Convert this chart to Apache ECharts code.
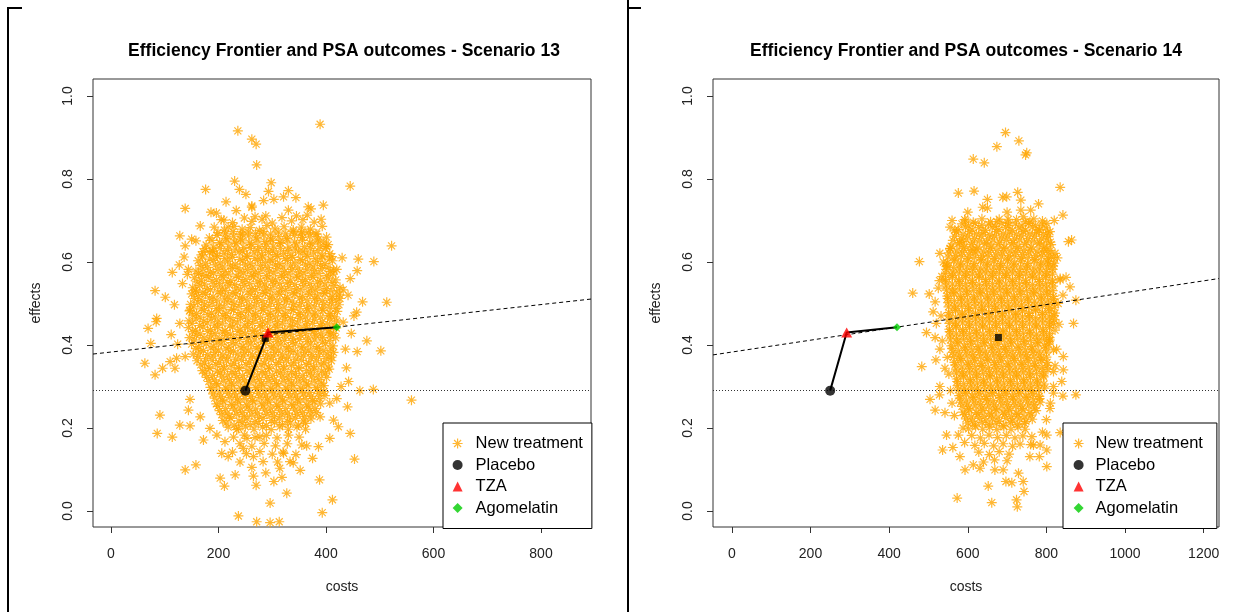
<!DOCTYPE html>
<html>
<head>
<meta charset="utf-8">
<title>Efficiency Frontier and PSA outcomes</title>
<script src="https://cdn.jsdelivr.net/npm/echarts@6/dist/echarts.min.js"></script>
<style>
  html, body { margin: 0; padding: 0; background: #fff; }
  #chart { width: 1244px; height: 612px; }
</style>
</head>
<body>
<div id="chart"></div>
<script>
// ---- chart text ----
const titles = [
  'Efficiency Frontier and PSA outcomes - Scenario 13',
  'Efficiency Frontier and PSA outcomes - Scenario 14'
];
const legendNames = ['New treatment', 'Placebo', 'TZA', 'Agomelatin'];
const xAxisName = 'costs';
const yAxisName = 'effects';

// ---- tick labels ----
const xTicks13 = [0, 200, 400, 600, 800];
const xTicks14 = [0, 200, 400, 600, 800, 1000, 1200];
const yTicks = [0, 0.2, 0.4, 0.6, 0.8, 1.0];

// ---- comparators on the efficiency frontier: Placebo, TZA, Agomelatin ----
const frontierCosts = [250, 292, 420];
const frontierEffects = [0.29, 0.43, 0.443];

// ---- mean of the new treatment PSA runs ----
const mean13 = [287, 0.416];
const mean14 = [678, 0.418];

// ---- willingness-to-pay line through the last frontier point ----
const wtpIntercept = 0.383;
const wtpSlope = 0.000143;

// ---- PSA outcomes, new treatment, scenario 13: [cost, effect] ----
const psa13 = [
  [236,0.916],[389,0.932],[262,0.896],[270,0.884],[271,0.834],[230,0.795],[298,0.791],[239,0.775],[176,0.775],[445,0.783],
  [293,0.770],[251,0.763],[321,0.757],[303,0.751],[138,0.729],[186,0.720],[233,0.724],[262,0.732],[367,0.733],[395,0.737],
  [210,0.701],[268,0.709],[288,0.711],[330,0.725],[345,0.711],[365,0.713],[391,0.703],[166,0.687],[218,0.684],[128,0.663],
  [138,0.639],[158,0.651],[522,0.639],[460,0.607],[489,0.601],[458,0.579],[127,0.593],[114,0.575],[144,0.582],[82,0.531],
  [101,0.515],[468,0.504],[513,0.503],[457,0.479],[432,0.533],[411,0.613],[401,0.637],[355,0.673],[383,0.667],[244,0.667],
  [190,0.625],[171,0.625],[169,0.569],[159,0.528],[147,0.484],[414,0.581],[426,0.512],[85,0.464],
  [69,0.440],[84,0.456],[74,0.404],[63,0.356],[82,0.328],[96,0.344],[110,0.360],[122,0.368],[119,0.344],[476,0.410],
  [502,0.386],[458,0.384],[442,0.312],[463,0.290],[488,0.293],[559,0.267],[440,0.251],[445,0.187],[453,0.125],[388,0.075],
  [412,0.027],[393,-0.004],[327,0.043],[296,0.019],[237,-0.012],[271,-0.026],[296,-0.028],[313,-0.026],[211,0.060],[203,0.079],
  [138,0.099],[158,0.111],[231,0.087],[265,0.084],[303,0.071],[339,0.116],[375,0.127],[86,0.187],[114,0.178],[91,0.231],
  [128,0.207],[147,0.205],[172,0.171],[166,0.227],[147,0.269],[144,0.243],[197,0.183],[212,0.167],[237,0.199],[253,0.175],
  [277,0.179],[206,0.139],[218,0.131],[246,0.151],[265,0.131],[283,0.119],[321,0.139],[333,0.119],[314,0.103],[355,0.159],
  [364,0.157],[386,0.155],[407,0.175],[389,0.227],[414,0.219],[423,0.203],[407,0.260],[420,0.271],[184,0.199],
  [128,0.452],[118,0.497],[133,0.548],[124,0.402],[138,0.372],[112,0.425],[136,0.612],[150,0.655],[142,0.570],[432,0.455],
  [441,0.520],[436,0.390],[447,0.428],[430,0.610],[452,0.470],[438,0.345],[428,0.300],[445,0.560],[214,0.745],[262,0.735],
  [284,0.748],[344,0.755],[372,0.728],[196,0.718],[330,0.772],[240,0.118],[262,0.105],[288,0.092],[310,0.118],[344,0.136],
  [226,0.142],[270,0.062],[318,0.081],[352,0.098],
  [205,0.702],[226,0.695],[248,0.706],[262,0.698],[281,0.703],[300,0.694],[318,0.707],[336,0.699],[357,0.702],[378,0.696],
  [192,0.684],[211,0.677],[229,0.686],[244,0.679],[259,0.683],[276,0.676],[290,0.688],[305,0.680],[322,0.685],[339,0.677],[354,0.684],[371,0.679],[393,0.686],
  [199,0.671],[213,0.668],[227,0.673],[241,0.667],[255,0.672],[269,0.669],[283,0.674],[297,0.667],[311,0.672],[325,0.668],[339,0.673],[353,0.667],[367,0.671],[381,0.668],
  [183,0.658],[197,0.664],[214,0.657],[228,0.662],[241,0.655],[256,0.663],[270,0.658],[284,0.665],[297,0.656],[312,0.661],[327,0.657],[341,0.664],[356,0.659],[370,0.662],[386,0.655],[401,0.660],
  [188,0.652],[202,0.647],[216,0.653],[230,0.648],[244,0.651],[258,0.646],[272,0.653],[286,0.649],[300,0.652],[314,0.647],[328,0.653],[342,0.648],[356,0.652],[370,0.646],[384,0.651],[396,0.648],
  [177,0.641],[191,0.636],[205,0.643],[219,0.638],[233,0.644],[247,0.635],[261,0.642],[275,0.637],[289,0.643],[302,0.638],[316,0.645],[331,0.636],[345,0.641],[360,0.637],[374,0.643],[389,0.638],[404,0.642],
  [175,0.632],[189,0.627],[203,0.633],[217,0.628],[231,0.631],[245,0.626],[259,0.633],[273,0.628],[287,0.632],[301,0.627],[315,0.633],[329,0.628],[343,0.631],[357,0.626],[371,0.633],[385,0.628],[399,0.632],
  [168,0.617],[183,0.623],[196,0.616],[210,0.621],[224,0.618],[238,0.624],[252,0.615],[266,0.622],[280,0.617],[293,0.623],[307,0.618],[321,0.621],[335,0.616],[349,0.624],[363,0.619],[377,0.622],[392,0.615],[407,0.620],
  [170,0.612],[184,0.607],[198,0.613],[212,0.608],[226,0.611],[240,0.606],[254,0.613],[268,0.608],[282,0.612],[296,0.607],[310,0.613],[324,0.608],[338,0.611],[352,0.606],[366,0.613],[380,0.608],[394,0.612],[406,0.607],
  [162,0.603],[176,0.597],[190,0.604],[203,0.598],[217,0.602],[231,0.595],[245,0.603],[259,0.597],[273,0.604],[287,0.599],[300,0.602],[314,0.596],[328,0.604],[342,0.598],[356,0.603],[370,0.597],[384,0.601],[398,0.596],[412,0.603],
  [166,0.592],[180,0.587],[194,0.593],[208,0.588],[222,0.591],[236,0.586],[250,0.593],[264,0.588],[278,0.592],[292,0.587],[306,0.593],[320,0.588],[334,0.591],[348,0.586],[362,0.593],[376,0.588],[390,0.592],[404,0.587],
  [158,0.578],[171,0.583],[185,0.576],[199,0.582],[212,0.577],[226,0.584],[240,0.578],[254,0.582],[268,0.576],[281,0.583],[295,0.578],[309,0.584],[323,0.577],[337,0.582],[351,0.576],[365,0.583],[379,0.579],[393,0.584],[408,0.577],[420,0.582],
  [163,0.572],[177,0.567],[191,0.573],[205,0.568],[219,0.571],[233,0.566],[247,0.573],[261,0.568],[275,0.572],[289,0.567],[303,0.573],[317,0.568],[331,0.571],[345,0.566],[359,0.573],[373,0.568],[387,0.572],[401,0.567],[413,0.571],
  [155,0.562],[168,0.556],[182,0.563],[196,0.557],[209,0.562],[223,0.555],[237,0.563],[251,0.558],[265,0.564],[278,0.556],[292,0.561],[306,0.557],[320,0.563],[334,0.556],[348,0.562],[362,0.558],[376,0.563],[390,0.556],[404,0.561],[418,0.557],
  [160,0.552],[174,0.547],[188,0.553],[202,0.548],[216,0.551],[230,0.546],[244,0.553],[258,0.548],[272,0.552],[286,0.547],[300,0.553],[314,0.548],[328,0.551],[342,0.546],[356,0.553],[370,0.548],[384,0.552],[398,0.547],[411,0.551],
  [152,0.538],[165,0.543],[179,0.536],[193,0.542],[207,0.537],[220,0.544],[234,0.538],[248,0.543],[262,0.536],[276,0.542],[289,0.538],[303,0.544],[317,0.537],[331,0.541],[345,0.536],[359,0.543],[373,0.538],[387,0.542],[401,0.536],[415,0.543],[426,0.539],
  [157,0.532],[171,0.527],[185,0.533],[199,0.528],[213,0.531],[227,0.526],[241,0.533],[255,0.528],[269,0.532],[283,0.527],[297,0.533],[311,0.528],[325,0.531],[339,0.526],[353,0.533],[367,0.528],[381,0.532],[395,0.527],[409,0.531],[420,0.528],
  [150,0.523],[163,0.517],[176,0.522],[190,0.516],[204,0.524],[218,0.518],[232,0.523],[245,0.516],[259,0.522],[273,0.517],[287,0.524],[300,0.518],[314,0.522],[328,0.515],[342,0.523],[356,0.517],[370,0.522],[384,0.518],[398,0.524],[412,0.517],[425,0.521],
  [155,0.512],[169,0.507],[183,0.513],[197,0.508],[211,0.511],[225,0.506],[239,0.513],[253,0.508],[267,0.512],[281,0.507],[295,0.513],[309,0.508],[323,0.511],[337,0.506],[351,0.513],[365,0.508],[379,0.512],[393,0.507],[407,0.511],[419,0.508],
  [148,0.498],[161,0.503],[174,0.497],[188,0.502],[202,0.496],[216,0.504],[229,0.498],[243,0.503],[257,0.496],[271,0.502],[285,0.497],[298,0.503],[312,0.498],[326,0.504],[340,0.497],[354,0.502],[368,0.496],[382,0.503],[396,0.498],[410,0.502],[424,0.497],
  [154,0.492],[168,0.487],[182,0.493],[196,0.488],[210,0.491],[224,0.486],[238,0.493],[252,0.488],[266,0.492],[280,0.487],[294,0.493],[308,0.488],[322,0.491],[336,0.486],[350,0.493],[364,0.488],[378,0.492],[392,0.487],[406,0.491],[418,0.488],
  [146,0.482],[159,0.476],[173,0.483],[187,0.477],[200,0.482],[214,0.476],[228,0.484],[242,0.478],[256,0.482],[269,0.476],[283,0.483],[297,0.477],[311,0.482],[325,0.476],[339,0.484],[352,0.478],[366,0.482],[380,0.477],[394,0.483],[408,0.476],[421,0.481],
  [152,0.472],[166,0.467],[180,0.473],[194,0.468],[208,0.471],[222,0.466],[236,0.473],[250,0.468],[264,0.472],[278,0.467],[292,0.473],[306,0.468],[320,0.471],[334,0.466],[348,0.473],[362,0.468],[376,0.472],[390,0.467],[404,0.471],[416,0.468],
  [145,0.458],[158,0.463],[172,0.457],[186,0.462],[199,0.456],[213,0.463],[227,0.458],[241,0.464],[255,0.457],[268,0.462],[282,0.456],[296,0.463],[310,0.457],[324,0.462],[338,0.458],[352,0.464],[365,0.457],[379,0.462],[393,0.456],[407,0.463],[420,0.458],
  [151,0.452],[165,0.447],[179,0.453],[193,0.448],[207,0.451],[221,0.446],[235,0.453],[249,0.448],[263,0.452],[277,0.447],[291,0.453],[305,0.448],[319,0.451],[333,0.446],[347,0.453],[361,0.448],[375,0.452],[389,0.447],[403,0.451],[415,0.448],
  [144,0.442],[157,0.436],[171,0.443],[185,0.437],[198,0.442],[212,0.435],[226,0.443],[240,0.438],[254,0.442],[267,0.436],[281,0.443],[295,0.437],[309,0.442],[323,0.436],[337,0.444],[350,0.438],[364,0.442],[378,0.436],[392,0.443],[406,0.437],[419,0.441],
  [152,0.432],[166,0.427],[180,0.433],[194,0.428],[208,0.431],[222,0.426],[236,0.433],[250,0.428],[264,0.432],[278,0.427],[292,0.433],[306,0.428],[320,0.431],[334,0.426],[348,0.433],[362,0.428],[376,0.432],[390,0.427],[404,0.431],[414,0.428],
  [146,0.418],[159,0.423],[173,0.417],[187,0.422],[201,0.416],[214,0.423],[228,0.418],[242,0.424],[256,0.417],[270,0.422],[283,0.416],[297,0.423],[311,0.418],[325,0.422],[339,0.416],[353,0.423],[367,0.417],[381,0.422],[394,0.418],[408,0.424],[418,0.417],
  [155,0.412],[169,0.407],[183,0.413],[197,0.408],[211,0.411],[225,0.406],[239,0.413],[253,0.408],[267,0.412],[281,0.407],[295,0.413],[309,0.408],[323,0.411],[337,0.406],[351,0.413],[365,0.408],[379,0.412],[393,0.407],[407,0.411],
  [150,0.402],[163,0.396],[177,0.403],[191,0.397],[205,0.402],[219,0.395],[232,0.403],[246,0.397],[260,0.402],[274,0.396],[288,0.404],[302,0.398],[316,0.402],[330,0.396],[343,0.403],[357,0.397],[371,0.402],[385,0.396],[399,0.403],[413,0.398],
  [158,0.392],[172,0.387],[186,0.393],[200,0.388],[214,0.391],[228,0.386],[242,0.393],[256,0.388],[270,0.392],[284,0.387],[298,0.393],[312,0.388],[326,0.391],[340,0.386],[354,0.393],[368,0.388],[382,0.392],[396,0.387],[409,0.391],
  [153,0.378],[166,0.383],[180,0.377],[194,0.382],[208,0.376],[222,0.383],[236,0.378],[249,0.382],[263,0.376],[277,0.383],[291,0.377],[305,0.382],[319,0.376],[333,0.384],[347,0.378],[361,0.382],[374,0.377],[388,0.383],[402,0.378],[414,0.382],
  [162,0.372],[176,0.367],[190,0.373],[204,0.368],[218,0.371],[232,0.366],[246,0.373],[260,0.368],[274,0.372],[288,0.367],[302,0.373],[316,0.368],[330,0.371],[344,0.366],[358,0.373],[372,0.368],[386,0.372],[400,0.367],[410,0.371],
  [160,0.362],[174,0.356],[188,0.363],[201,0.357],[215,0.362],[229,0.356],[243,0.363],[257,0.357],[271,0.362],[285,0.356],[298,0.364],[312,0.358],[326,0.362],[340,0.357],[354,0.363],[368,0.356],[382,0.362],[396,0.357],[410,0.362],
  [167,0.352],[181,0.347],[195,0.353],[209,0.348],[223,0.351],[237,0.346],[251,0.353],[265,0.348],[279,0.352],[293,0.347],[307,0.353],[321,0.348],[335,0.351],[349,0.346],[363,0.353],[377,0.348],[391,0.352],[404,0.347],
  [170,0.338],[184,0.343],[198,0.337],[211,0.342],[225,0.336],[239,0.343],[253,0.338],[267,0.342],[281,0.336],[295,0.343],[308,0.337],[322,0.342],[336,0.336],[350,0.343],[364,0.338],[378,0.342],[392,0.337],[406,0.342],
  [175,0.332],[189,0.327],[203,0.333],[217,0.328],[231,0.331],[245,0.326],[259,0.333],[273,0.328],[287,0.332],[301,0.327],[315,0.333],[329,0.328],[343,0.331],[357,0.326],[371,0.333],[385,0.328],[399,0.332],
  [178,0.322],[192,0.316],[206,0.323],[220,0.317],[234,0.322],[248,0.316],[262,0.323],[276,0.317],[290,0.322],[304,0.316],[318,0.323],[331,0.317],[345,0.322],[359,0.316],[373,0.323],[387,0.317],[401,0.322],
  [182,0.312],[196,0.307],[210,0.313],[224,0.308],[238,0.311],[252,0.306],[266,0.313],[280,0.308],[294,0.312],[308,0.307],[322,0.313],[336,0.308],[350,0.311],[364,0.306],[378,0.313],[392,0.308],
  [185,0.298],[199,0.303],[213,0.297],[227,0.302],[241,0.296],[255,0.303],[269,0.298],[283,0.302],[297,0.296],[311,0.303],[325,0.297],[339,0.302],[353,0.296],[367,0.303],[381,0.298],[396,0.302],
  [188,0.292],[202,0.287],[216,0.293],[230,0.288],[244,0.291],[258,0.286],[272,0.293],[286,0.288],[300,0.292],[314,0.287],[328,0.293],[342,0.288],[356,0.291],[370,0.286],[384,0.293],[396,0.288],
  [190,0.282],[204,0.276],[218,0.283],[232,0.277],[246,0.282],[260,0.276],[274,0.283],[288,0.277],[302,0.282],[316,0.276],[330,0.283],[344,0.277],[358,0.282],[372,0.276],[386,0.283],[398,0.278],
  [193,0.272],[207,0.267],[221,0.273],[235,0.268],[249,0.271],[263,0.266],[277,0.273],[291,0.268],[305,0.272],[319,0.267],[333,0.273],[347,0.268],[361,0.271],[375,0.266],[388,0.271],
  [196,0.258],[210,0.263],[224,0.257],[238,0.262],[252,0.256],[266,0.263],[280,0.258],[294,0.262],[308,0.256],[322,0.263],[336,0.257],[350,0.262],[364,0.256],[378,0.263],[390,0.258],
  [199,0.252],[213,0.247],[227,0.253],[241,0.248],[255,0.251],[269,0.246],[283,0.253],[297,0.248],[311,0.252],[325,0.247],[339,0.253],[353,0.248],[367,0.251],[380,0.247],
  [202,0.242],[216,0.236],[230,0.243],[244,0.237],[258,0.242],[272,0.236],[286,0.243],[300,0.237],[314,0.242],[328,0.236],[342,0.243],[356,0.237],[370,0.242],[382,0.237],
  [206,0.232],[220,0.227],[234,0.233],[248,0.228],[262,0.231],[276,0.226],[290,0.233],[304,0.228],[318,0.232],[332,0.227],[346,0.233],[360,0.228],[372,0.231],
  [208,0.218],[223,0.223],[238,0.217],[253,0.222],[268,0.216],[283,0.223],[298,0.218],[313,0.222],[328,0.216],[343,0.223],[358,0.217],[372,0.222],
  [214,0.212],[229,0.207],[244,0.213],[259,0.208],[274,0.211],[289,0.206],[304,0.213],[319,0.208],[334,0.212],[349,0.207],[362,0.211],
  [218,0.202],[234,0.196],[250,0.203],[266,0.197],[282,0.202],[298,0.196],[314,0.203],[330,0.197],[346,0.202],[362,0.197],
  [228,0.178],[248,0.183],[268,0.177],[289,0.182],[309,0.176],[330,0.183],[350,0.178],
  [240,0.162],[262,0.156],[285,0.163],[306,0.157],[328,0.162],
  [252,0.138],[277,0.143],[300,0.137],[320,0.142]
];

// ---- PSA outcomes, new treatment, scenario 14: [cost, effect] ----
const psa14 = [
  [696,0.912],[674,0.878],[730,0.892],[750,0.863],[747,0.858],[614,0.848],[642,0.839],[835,0.780],[576,0.766],[616,0.771],
  [650,0.751],[689,0.756],[699,0.757],[727,0.768],[735,0.749],[638,0.732],[735,0.725],[842,0.713],[741,0.709],[595,0.699],
  [555,0.684],[567,0.677],[674,0.697],[703,0.703],[758,0.697],[801,0.693],[782,0.677],[809,0.673],[856,0.649],[864,0.653],
  [477,0.601],[460,0.525],[502,0.523],[529,0.621],[555,0.633],[585,0.649],[613,0.629],[801,0.627],[805,0.597],[835,0.557],
  [860,0.540],[842,0.520],[850,0.563],[875,0.508],[517,0.504],[525,0.537],[512,0.480],[534,0.565],[546,0.589],
  [495,0.430],[517,0.418],[529,0.390],[483,0.348],[519,0.364],[542,0.344],[529,0.300],[504,0.269],[517,0.243],[528,0.280],
  [542,0.237],[546,0.183],[536,0.147],[562,0.153],[580,0.131],[576,0.183],[593,0.099],[614,0.111],[631,0.103],[652,0.060],
  [573,0.031],[661,0.020],[724,0.027],[726,0.010],[697,0.071],[712,0.068],[741,0.071],[743,0.047],[729,0.091],[669,0.099],
  [690,0.099],[801,0.107],[782,0.131],[758,0.131],[801,0.147],[767,0.159],[784,0.159],[763,0.179],[801,0.183],[835,0.189],
  [809,0.247],[842,0.277],[818,0.284],[875,0.280],[839,0.312],[843,0.340],[818,0.336],[843,0.372],[818,0.388],[809,0.412],
  [822,0.436],[869,0.452],[818,0.452],
  [520,0.452],[532,0.470],[528,0.555],[538,0.600],[535,0.410],[548,0.370],[552,0.330],[556,0.290],[560,0.260],[566,0.230],
  [835,0.560],[830,0.500],[832,0.450],[828,0.610],[826,0.390],[822,0.350],[818,0.300],[810,0.260],[800,0.220],[790,0.190],
  [560,0.700],[820,0.700],[600,0.720],[650,0.730],[700,0.720],[760,0.725],[780,0.740],[588,0.200],[760,0.160],[592,0.165],
  [592,0.702],[614,0.696],[636,0.704],[658,0.697],[680,0.703],[702,0.695],[724,0.702],[746,0.697],[768,0.704],[790,0.699],
  [585,0.692],[602,0.687],[619,0.693],[636,0.688],[653,0.691],[670,0.686],[687,0.693],[704,0.688],[721,0.692],[738,0.687],[755,0.693],[772,0.688],[789,0.691],
  [576,0.678],[594,0.684],[611,0.677],[628,0.683],[645,0.676],[662,0.684],[679,0.678],[696,0.683],[713,0.676],[730,0.682],[747,0.677],[764,0.684],[781,0.678],[799,0.682],
  [571,0.672],[588,0.667],[605,0.673],[622,0.668],[639,0.671],[656,0.666],[673,0.673],[690,0.668],[707,0.672],[724,0.667],[741,0.673],[758,0.668],[775,0.671],[792,0.666],[803,0.671],
  [566,0.662],[583,0.656],[600,0.663],[617,0.657],[634,0.662],[651,0.656],[668,0.663],[685,0.658],[702,0.662],[719,0.656],[736,0.663],[753,0.657],[770,0.662],[787,0.656],[805,0.661],
  [562,0.652],[579,0.647],[596,0.653],[613,0.648],[630,0.651],[647,0.646],[664,0.653],[681,0.648],[698,0.652],[715,0.647],[732,0.653],[749,0.648],[766,0.651],[783,0.646],[800,0.653],[810,0.648],
  [558,0.638],[575,0.643],[592,0.637],[609,0.642],[626,0.636],[643,0.643],[660,0.638],[677,0.642],[694,0.636],[711,0.643],[728,0.637],[745,0.642],[762,0.636],[779,0.643],[796,0.638],[812,0.642],
  [555,0.632],[572,0.627],[589,0.633],[606,0.628],[623,0.631],[640,0.626],[657,0.633],[674,0.628],[691,0.632],[708,0.627],[725,0.633],[742,0.628],[759,0.631],[776,0.626],[793,0.633],[810,0.628],
  [552,0.622],[569,0.616],[586,0.623],[603,0.617],[620,0.622],[637,0.616],[654,0.623],[671,0.617],[688,0.622],[705,0.616],[722,0.623],[739,0.618],[756,0.622],[773,0.616],[790,0.623],[807,0.617],[822,0.621],
  [550,0.612],[567,0.607],[584,0.613],[601,0.608],[618,0.611],[635,0.606],[652,0.613],[669,0.608],[686,0.612],[703,0.607],[720,0.613],[737,0.608],[754,0.611],[771,0.606],[788,0.613],[805,0.608],[818,0.611],
  [548,0.598],[565,0.603],[582,0.597],[599,0.602],[616,0.596],[633,0.603],[650,0.598],[667,0.602],[684,0.596],[701,0.603],[718,0.597],[735,0.602],[752,0.596],[769,0.603],[786,0.598],[803,0.602],[820,0.597],
  [547,0.592],[564,0.587],[581,0.593],[598,0.588],[615,0.591],[632,0.586],[649,0.593],[666,0.588],[683,0.592],[700,0.587],[717,0.593],[734,0.588],[751,0.591],[768,0.586],[785,0.593],[802,0.588],[817,0.591],
  [545,0.582],[562,0.576],[579,0.583],[596,0.577],[613,0.582],[630,0.576],[647,0.583],[664,0.577],[681,0.582],[698,0.576],[715,0.583],[732,0.577],[749,0.582],[766,0.576],[783,0.583],[800,0.577],[816,0.582],
  [544,0.572],[561,0.567],[578,0.573],[595,0.568],[612,0.571],[629,0.566],[646,0.573],[663,0.568],[680,0.572],[697,0.567],[714,0.573],[731,0.568],[748,0.571],[765,0.566],[782,0.573],[799,0.568],[815,0.571],
  [543,0.558],[560,0.563],[577,0.557],[594,0.562],[611,0.556],[628,0.563],[645,0.558],[662,0.562],[679,0.556],[696,0.563],[713,0.557],[730,0.562],[747,0.556],[764,0.563],[781,0.558],[798,0.562],[815,0.557],
  [544,0.552],[561,0.547],[578,0.553],[595,0.548],[612,0.551],[629,0.546],[646,0.553],[663,0.548],[680,0.552],[697,0.547],[714,0.553],[731,0.548],[748,0.551],[765,0.546],[782,0.553],[799,0.548],[815,0.551],
  [545,0.542],[562,0.536],[579,0.543],[596,0.537],[613,0.542],[630,0.536],[647,0.543],[664,0.537],[681,0.542],[698,0.536],[715,0.543],[732,0.537],[749,0.542],[766,0.536],[783,0.543],[800,0.538],[817,0.542],
  [546,0.532],[563,0.527],[580,0.533],[597,0.528],[614,0.531],[631,0.526],[648,0.533],[665,0.528],[682,0.532],[699,0.527],[716,0.533],[733,0.528],[750,0.531],[767,0.526],[784,0.533],[801,0.528],[816,0.531],
  [548,0.518],[565,0.523],[582,0.517],[599,0.522],[616,0.516],[633,0.523],[650,0.518],[667,0.522],[684,0.516],[701,0.523],[718,0.517],[735,0.522],[752,0.516],[769,0.523],[786,0.518],[803,0.522],[818,0.517],
  [549,0.512],[566,0.507],[583,0.513],[600,0.508],[617,0.511],[634,0.506],[651,0.513],[668,0.508],[685,0.512],[702,0.507],[719,0.513],[736,0.508],[753,0.511],[770,0.506],[787,0.513],[804,0.508],[818,0.511],
  [550,0.502],[567,0.496],[584,0.503],[601,0.497],[618,0.502],[635,0.496],[652,0.503],[669,0.497],[686,0.502],[703,0.496],[720,0.503],[737,0.497],[754,0.502],[771,0.496],[788,0.503],[805,0.497],[820,0.502],
  [551,0.492],[568,0.487],[585,0.493],[602,0.488],[619,0.491],[636,0.486],[653,0.493],[670,0.488],[687,0.492],[704,0.487],[721,0.493],[738,0.488],[755,0.491],[772,0.486],[789,0.493],[806,0.488],[820,0.491],
  [552,0.478],[569,0.483],[586,0.477],[603,0.482],[620,0.476],[637,0.483],[654,0.478],[671,0.482],[688,0.476],[705,0.483],[722,0.477],[739,0.482],[756,0.476],[773,0.483],[790,0.478],[807,0.482],[822,0.477],
  [552,0.472],[569,0.467],[586,0.473],[603,0.468],[620,0.471],[637,0.466],[654,0.473],[671,0.468],[688,0.472],[705,0.467],[722,0.473],[739,0.468],[756,0.471],[773,0.466],[790,0.473],[807,0.468],[819,0.471],
  [552,0.462],[569,0.456],[586,0.463],[603,0.457],[620,0.462],[637,0.456],[654,0.463],[671,0.457],[688,0.462],[705,0.456],[722,0.463],[739,0.457],[756,0.462],[773,0.456],[790,0.463],[807,0.457],[820,0.461],
  [553,0.452],[570,0.447],[587,0.453],[604,0.448],[621,0.451],[638,0.446],[655,0.453],[672,0.448],[689,0.452],[706,0.447],[723,0.453],[740,0.448],[757,0.451],[774,0.446],[791,0.453],[808,0.448],
  [553,0.438],[570,0.443],[587,0.437],[604,0.442],[621,0.436],[638,0.443],[655,0.438],[672,0.442],[689,0.436],[706,0.443],[723,0.437],[740,0.442],[757,0.436],[774,0.443],[791,0.438],[808,0.442],
  [554,0.432],[571,0.427],[588,0.433],[605,0.428],[622,0.431],[639,0.426],[656,0.433],[673,0.428],[690,0.432],[707,0.427],[724,0.433],[741,0.428],[758,0.431],[775,0.426],[792,0.433],[808,0.428],
  [555,0.422],[572,0.416],[589,0.423],[606,0.417],[623,0.422],[640,0.416],[657,0.423],[674,0.417],[691,0.422],[708,0.416],[725,0.423],[742,0.417],[759,0.422],[776,0.416],[793,0.423],[808,0.418],
  [556,0.412],[573,0.407],[590,0.413],[607,0.408],[624,0.411],[641,0.406],[658,0.413],[675,0.408],[692,0.412],[709,0.407],[726,0.413],[743,0.408],[760,0.411],[777,0.406],[794,0.413],[807,0.408],
  [558,0.398],[575,0.403],[592,0.397],[609,0.402],[626,0.396],[643,0.403],[660,0.398],[677,0.402],[694,0.396],[711,0.403],[728,0.397],[745,0.402],[762,0.396],[779,0.403],[796,0.398],[806,0.402],
  [560,0.392],[577,0.387],[594,0.393],[611,0.388],[628,0.391],[645,0.386],[662,0.393],[679,0.388],[696,0.392],[713,0.387],[730,0.393],[747,0.388],[764,0.391],[781,0.386],[798,0.393],
  [562,0.382],[579,0.376],[596,0.383],[613,0.377],[630,0.382],[647,0.376],[664,0.383],[681,0.377],[698,0.382],[715,0.376],[732,0.383],[749,0.377],[766,0.382],[783,0.376],[800,0.383],
  [564,0.372],[581,0.367],[598,0.373],[615,0.368],[632,0.371],[649,0.366],[666,0.373],[683,0.368],[700,0.372],[717,0.367],[734,0.373],[751,0.368],[768,0.371],[785,0.366],[800,0.371],
  [566,0.358],[583,0.363],[600,0.357],[617,0.362],[634,0.356],[651,0.363],[668,0.358],[685,0.362],[702,0.356],[719,0.363],[736,0.357],[753,0.362],[770,0.356],[787,0.363],[802,0.358],
  [568,0.352],[585,0.347],[602,0.353],[619,0.348],[636,0.351],[653,0.346],[670,0.353],[687,0.348],[704,0.352],[721,0.347],[738,0.353],[755,0.348],[772,0.351],[789,0.346],[802,0.351],
  [570,0.342],[587,0.336],[604,0.343],[621,0.337],[638,0.342],[655,0.336],[672,0.343],[689,0.337],[706,0.342],[723,0.336],[740,0.343],[757,0.337],[774,0.342],[791,0.336],[804,0.341],
  [571,0.332],[588,0.327],[605,0.333],[622,0.328],[639,0.331],[656,0.326],[673,0.333],[690,0.328],[707,0.332],[724,0.327],[741,0.333],[758,0.328],[775,0.331],[792,0.326],
  [572,0.318],[589,0.323],[606,0.317],[623,0.322],[640,0.316],[657,0.323],[674,0.318],[691,0.322],[708,0.316],[725,0.323],[742,0.317],[759,0.322],[776,0.316],[793,0.323],
  [573,0.312],[590,0.307],[607,0.313],[624,0.308],[641,0.311],[658,0.306],[675,0.313],[692,0.308],[709,0.312],[726,0.307],[743,0.313],[760,0.308],[777,0.311],[794,0.306],
  [574,0.302],[591,0.296],[608,0.303],[625,0.297],[642,0.302],[659,0.296],[676,0.303],[693,0.297],[710,0.302],[727,0.296],[744,0.303],[761,0.297],[778,0.302],[795,0.296],
  [576,0.292],[593,0.287],[610,0.293],[627,0.288],[644,0.291],[661,0.286],[678,0.293],[695,0.288],[712,0.292],[729,0.287],[746,0.293],[763,0.288],[780,0.291],
  [578,0.278],[595,0.283],[612,0.277],[629,0.282],[646,0.276],[663,0.283],[680,0.278],[697,0.282],[714,0.276],[731,0.283],[748,0.277],[765,0.282],[782,0.276],
  [580,0.272],[597,0.267],[614,0.273],[631,0.268],[648,0.271],[665,0.266],[682,0.273],[699,0.268],[716,0.272],[733,0.267],[750,0.273],[767,0.268],[783,0.271],
  [582,0.262],[599,0.256],[616,0.263],[633,0.257],[650,0.262],[667,0.256],[684,0.263],[701,0.257],[718,0.262],[735,0.256],[752,0.263],[769,0.257],[784,0.262],
  [585,0.252],[602,0.247],[619,0.253],[636,0.248],[653,0.251],[670,0.246],[687,0.253],[704,0.248],[721,0.252],[738,0.247],[755,0.253],[771,0.248],
  [588,0.238],[605,0.243],[622,0.237],[639,0.242],[656,0.236],[673,0.243],[690,0.238],[707,0.242],[724,0.236],[741,0.243],[758,0.237],[774,0.242],
  [592,0.232],[609,0.227],[626,0.233],[643,0.228],[660,0.231],[677,0.226],[694,0.233],[711,0.228],[728,0.232],[745,0.227],[761,0.231],
  [595,0.222],[612,0.216],[629,0.223],[646,0.217],[663,0.222],[680,0.216],[697,0.223],[714,0.217],[731,0.222],[748,0.216],[764,0.221],
  [600,0.212],[618,0.207],[636,0.213],[654,0.208],[672,0.211],[690,0.206],[708,0.213],[726,0.208],[744,0.211],
  [602,0.198],[620,0.203],[638,0.197],[656,0.202],[674,0.196],[692,0.203],[710,0.197],[728,0.202],[746,0.197],
  [610,0.182],[632,0.176],[654,0.183],[676,0.177],[698,0.182],[720,0.176],[740,0.181],
  [618,0.158],[642,0.163],[666,0.157],[690,0.162],[714,0.156],[733,0.161],
  [628,0.142],[655,0.136],[680,0.143],[705,0.137],
  [640,0.118],[668,0.123],[700,0.121]
];

// ---- drawing ----
const FONT = '"Liberation Sans", Arial, Helvetica, sans-serif';
const ASTERISK = 'path://M0 5L10 5M5 0L5 10M1.5 1.5L8.5 8.5M8.5 1.5L1.5 8.5';
const ORANGE = '#FFA500';
const Y_MIN = -0.0386, Y_MAX = 1.041;

const panels = [
  { psa: psa13, mean: mean13, xMin: -33.5, xMax: 893, xTicks: xTicks13,
    grid: { left: 93, top: 79, width: 498, height: 448 }, titleX: 339, legendLeft: 443,
    legendPad: [12, 9, 12, 9], textPad: 8 },
  { psa: psa14, mean: mean14, xMin: -48, xMax: 1239, xTicks: xTicks14,
    grid: { left: 713, top: 79, width: 506, height: 448 }, titleX: 961, legendLeft: 1063,
    legendPad: [12, 14, 12, 10], textPad: 7 }
];

const legendData = [
  { name: legendNames[0], icon: ASTERISK,
    itemStyle: { color: 'rgba(0,0,0,0)', borderColor: ORANGE, borderWidth: 1.2 } },
  { name: legendNames[1], icon: 'circle', itemStyle: { color: '#000' } },
  { name: legendNames[2], icon: 'triangle', itemStyle: { color: '#FF0000' } },
  { name: legendNames[3], icon: 'diamond', itemStyle: { color: '#00CC00' } }
];

const option = {
  animation: false,
  backgroundColor: '#fff',
  title: [], grid: [], xAxis: [], yAxis: [], legend: [], series: [],
  graphic: [
    { type: 'line', shape: { x1: 8, y1: 8, x2: 8, y2: 612 }, style: { stroke: '#000', lineWidth: 2 } },
    { type: 'line', shape: { x1: 7, y1: 8, x2: 22, y2: 8 }, style: { stroke: '#000', lineWidth: 2 } },
    { type: 'line', shape: { x1: 628, y1: 0, x2: 628, y2: 612 }, style: { stroke: '#000', lineWidth: 2 } },
    { type: 'line', shape: { x1: 628, y1: 8, x2: 641, y2: 8 }, style: { stroke: '#000', lineWidth: 2 } }
  ]
};

panels.forEach((p, i) => {
  option.title.push({
    text: titles[i], left: p.titleX, top: 37, textAlign: 'center',
    textStyle: { fontFamily: FONT, fontSize: 17.5, fontWeight: 'bold', color: '#000' }
  });
  option.grid.push(Object.assign({ show: true, borderColor: '#333', borderWidth: 1,
    backgroundColor: 'transparent' }, p.grid));
  option.xAxis.push({
    type: 'value', gridIndex: i, min: p.xMin, max: p.xMax,
    axisLine: { show: false, onZero: false },
    axisTick: { show: true, length: 6, customValues: p.xTicks, lineStyle: { color: '#333' } },
    axisLabel: { customValues: p.xTicks, margin: 20, fontFamily: FONT, fontSize: 14, color: '#222',
      formatter: v => String(v) },
    splitLine: { show: false },
    name: xAxisName, nameLocation: 'middle', nameGap: 53,
    nameTextStyle: { fontFamily: FONT, fontSize: 14, color: '#222' }
  });
  option.yAxis.push({
    type: 'value', gridIndex: i, min: Y_MIN, max: Y_MAX,
    axisLine: { show: false, onZero: false },
    axisTick: { show: true, length: 6, customValues: yTicks, lineStyle: { color: '#333' } },
    axisLabel: { customValues: yTicks, rotate: 90, margin: 18, fontFamily: FONT, fontSize: 14,
      color: '#222', formatter: v => v.toFixed(1) },
    splitLine: { show: false },
    name: yAxisName, nameLocation: 'middle', nameGap: 50,
    nameTextStyle: { fontFamily: FONT, fontSize: 14, color: '#222' }
  });
  option.legend.push({
    data: legendData, orient: 'vertical', left: p.legendLeft, top: 423,
    padding: p.legendPad, itemGap: 4.5, itemWidth: 10, itemHeight: 10,
    backgroundColor: '#fff', borderColor: '#000', borderWidth: 1,
    selectedMode: false, z: 10,
    textStyle: { fontFamily: FONT, fontSize: 16.5, color: '#000', padding: [0, 0, 0, p.textPad] }
  });

  const axes = { xAxisIndex: i, yAxisIndex: i, silent: true };
  option.series.push(
    Object.assign({ name: legendNames[0], type: 'scatter', data: p.psa,
      symbol: ASTERISK, symbolSize: 10, symbolKeepAspect: true, z: 2,
      itemStyle: { color: 'rgba(0,0,0,0)', borderColor: ORANGE, borderWidth: 1.2 },
      emphasis: { disabled: true } }, axes),
    Object.assign({ name: 'wtp', type: 'line', z: 3, symbol: 'none',
      data: [p.xMin, p.xMax].map(x => [x, wtpIntercept + wtpSlope * x]),
      lineStyle: { color: '#000', width: 1, type: [4, 3] } }, axes),
    Object.assign({ name: 'frontier', type: 'line', z: 4, symbol: 'none',
      data: frontierCosts.map((c, k) => [c, frontierEffects[k]]),
      lineStyle: { color: '#000', width: 2 } }, axes),
    Object.assign({ name: 'mean', type: 'scatter', z: 5, data: [p.mean],
      symbol: 'rect', symbolSize: 7, itemStyle: { color: '#000' } }, axes),
    Object.assign({ name: legendNames[1], type: 'scatter', z: 6,
      data: [[frontierCosts[0], frontierEffects[0]]],
      symbol: 'circle', symbolSize: 10, symbolKeepAspect: true, itemStyle: { color: '#000' },
      markLine: { silent: true, symbol: ['none', 'none'], label: { show: false },
        lineStyle: { color: '#333', width: 1, type: [1, 2] },
        data: [{ yAxis: frontierEffects[0] }] } }, axes),
    Object.assign({ name: legendNames[2], type: 'scatter', z: 6,
      data: [[frontierCosts[1], frontierEffects[1]]],
      symbol: 'triangle', symbolSize: [11, 10], symbolKeepAspect: true,
      itemStyle: { color: '#FF0000' } }, axes),
    Object.assign({ name: legendNames[3], type: 'scatter', z: 6,
      data: [[frontierCosts[2], frontierEffects[2]]],
      symbol: 'diamond', symbolSize: 8, symbolKeepAspect: true,
      itemStyle: { color: '#00CC00' } }, axes)
  );
});

const chart = echarts.init(document.getElementById('chart'), null, { renderer: 'canvas' });
chart.setOption(option);
</script>
</body>
</html>
